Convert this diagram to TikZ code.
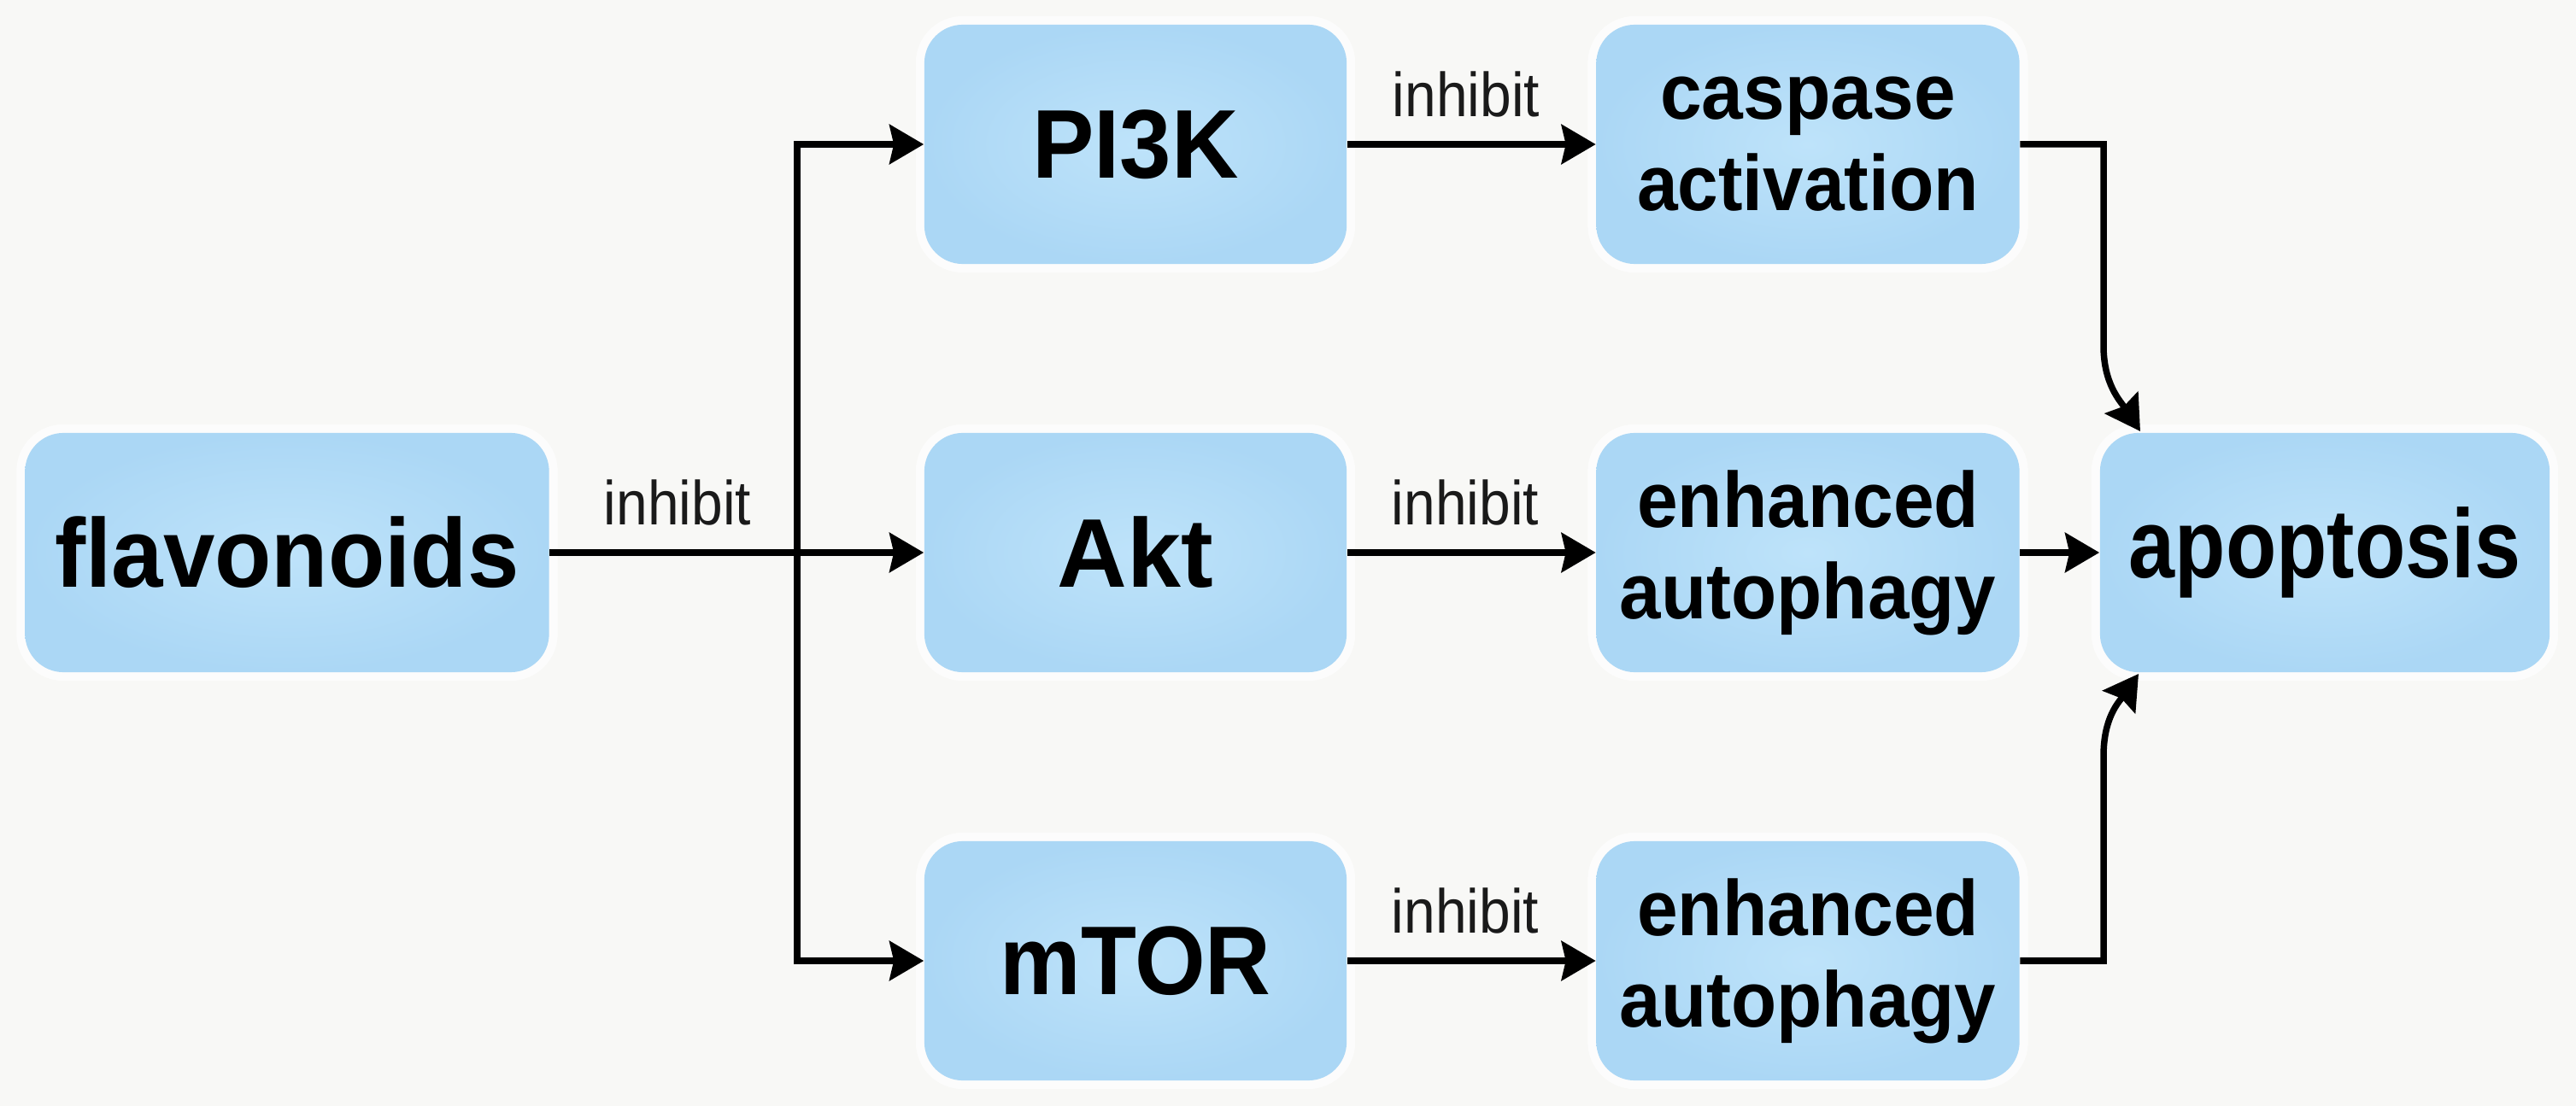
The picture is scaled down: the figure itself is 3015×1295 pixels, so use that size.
\documentclass[tikz,border=0pt]{standalone}
\usepackage{fontspec}
\setmainfont{Liberation Sans}
\usepackage{graphicx}
\usetikzlibrary{arrows.meta,calc}
\definecolor{bg}{HTML}{F8F8F6}
\definecolor{boxin}{HTML}{BEE3FA}
\definecolor{boxout}{HTML}{ABD7F5}
\definecolor{lbl}{HTML}{1A1A1A}
\newcommand{\sx}[2]{\scalebox{#1}[1]{#2}}
\begin{document}
\begin{tikzpicture}[x=0.01cm,y=-0.01cm,
  box/.style={rounded corners=0.45cm, inner color=boxin, outer color=boxout,
    minimum height=2.8cm, inner sep=0pt, text=black, align=center,
    preaction={draw=white, line width=2mm, opacity=0.7}},
  big/.style={font=\bfseries\fontsize{32.5}{36}\selectfont},
  two/.style={font=\bfseries\fontsize{26.2}{30.4}\selectfont},
  lab/.style={font=\fontsize{20.7}{24}\selectfont, text=lbl, inner sep=0pt, anchor=base},
  arr/.style={draw=black, line width=0.75mm, -{Stealth[length=4mm,width=4.6mm,inset=0.5mm]}}]
\fill[bg] (0,0) rectangle (3015,1295);
\useasboundingbox (0,0) rectangle (3015,1295);

\node[box,big,minimum width=6.13cm] (flav) at (336,647) {\sx{0.95}{flavonoids}};
\node[box,big,minimum width=4.94cm] (pi3k) at (1329,169) {\sx{0.95}{PI3K}};
\node[box,big,minimum width=4.94cm] (akt) at (1329,647) {\sx{0.99}{Akt}};
\node[box,big,minimum width=4.94cm] (mtor) at (1329,1125) {\sx{0.93}{mTOR}};
\node[box,two,minimum width=4.95cm] (casp) at (2116,169) {\sx{0.95}{caspase}\\\sx{0.93}{activation}};
\node[box,two,minimum width=4.95cm] (enh1) at (2116,647) {\sx{0.93}{enhanced}\\\sx{0.945}{autophagy}};
\node[box,two,minimum width=4.95cm] (enh2) at (2116,1125) {\sx{0.93}{enhanced}\\\sx{0.945}{autophagy}};
\node[box,big,minimum width=5.26cm] (apop) at (2721,647) {\raisebox{-0.07em}{\sx{0.85}{apoptosis}}};

\node[lab] (l0) at (793,615) {\sx{0.905}{inhibit}};
\node[lab] (l1) at (1716,137) {\sx{0.905}{inhibit}};
\node[lab] (l2) at (1715,615) {\sx{0.905}{inhibit}};
\node[lab] (l3) at (1715,1092) {\sx{0.905}{inhibit}};

\coordinate (j) at (933,647);
\draw[arr] (flav.east) -- (flav.east -| akt.west);
\draw[arr] (j) |- (pi3k.west);
\draw[arr] (j) |- (mtor.west);

\draw[arr] (pi3k.east) -- (casp.west);
\draw[arr] (akt.east) -- (enh1.west);
\draw[arr] (mtor.east) -- (enh2.west);

\coordinate (c1) at (2462,405);
\coordinate (t1) at (2505,505);
\draw[arr] (casp.east) -| (c1) .. controls (2462,450) and (2482,470) .. (t1);
\draw[arr] (enh1.east) -- (apop.west);
\coordinate (c3) at (2462,885);
\coordinate (t3) at (2503,789);
\draw[arr] (enh2.east) -| (c3) .. controls (2462,840) and (2480,822) .. (t3);
\end{tikzpicture}
\end{document}
